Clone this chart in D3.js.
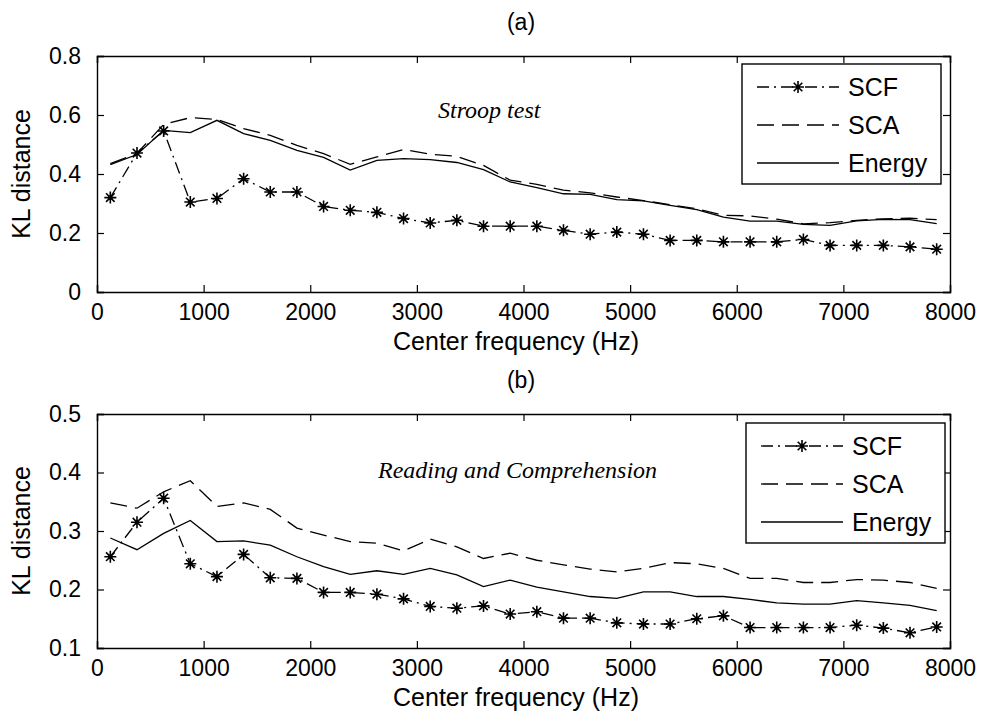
<!DOCTYPE html>
<html>
<head>
<meta charset="utf-8">
<script src="https://cdn.jsdelivr.net/npm/d3@7"></script>
<style>
  html, body { margin: 0; padding: 0; background: #fff; }
  svg { display: block; }
  text { fill: #000; }
</style>
</head>
<body>
<svg id="chart" width="981" height="720"></svg>
<script>
// Band center frequencies (Hz)
const freqs = [125, 375, 625, 875, 1125, 1375, 1625, 1875, 2125, 2375, 2625, 2875,
  3125, 3375, 3625, 3875, 4125, 4375, 4625, 4875, 5125, 5375, 5625, 5875,
  6125, 6375, 6625, 6875, 7125, 7375, 7625, 7875];

// (a) Stroop test
const scfA = [0.320, 0.471, 0.546, 0.305, 0.317, 0.384, 0.339, 0.339, 0.290, 0.277, 0.270, 0.249,
  0.234, 0.243, 0.223, 0.223, 0.223, 0.209, 0.196, 0.203, 0.196, 0.175, 0.175, 0.170,
  0.170, 0.170, 0.178, 0.158, 0.158, 0.158, 0.153, 0.145];
const scaA = [0.435, 0.470, 0.568, 0.591, 0.585, 0.554, 0.531, 0.497, 0.469, 0.433, 0.458, 0.483,
  0.467, 0.460, 0.429, 0.379, 0.365, 0.345, 0.336, 0.322, 0.310, 0.296, 0.282, 0.260,
  0.258, 0.247, 0.231, 0.235, 0.243, 0.248, 0.250, 0.245];
const energyA = [0.432, 0.466, 0.548, 0.540, 0.582, 0.537, 0.514, 0.480, 0.456, 0.413, 0.446, 0.452,
  0.449, 0.439, 0.415, 0.373, 0.354, 0.333, 0.331, 0.313, 0.309, 0.294, 0.279, 0.254,
  0.240, 0.240, 0.229, 0.226, 0.241, 0.246, 0.245, 0.232];

// (b) Reading and Comprehension
const scfB = [0.256, 0.315, 0.356, 0.244, 0.222, 0.260, 0.220, 0.219, 0.195, 0.195, 0.192, 0.184,
  0.171, 0.168, 0.172, 0.158, 0.162, 0.151, 0.151, 0.143, 0.141, 0.141, 0.150, 0.155,
  0.135, 0.135, 0.135, 0.135, 0.139, 0.134, 0.126, 0.136];
const scaB = [0.348, 0.339, 0.367, 0.386, 0.342, 0.348, 0.337, 0.305, 0.293, 0.282, 0.279, 0.266,
  0.286, 0.273, 0.253, 0.262, 0.250, 0.242, 0.235, 0.230, 0.236, 0.246, 0.244, 0.236,
  0.219, 0.219, 0.212, 0.212, 0.217, 0.216, 0.212, 0.202];
const energyB = [0.288, 0.268, 0.296, 0.318, 0.282, 0.283, 0.276, 0.256, 0.239, 0.226, 0.232, 0.226,
  0.236, 0.225, 0.205, 0.216, 0.204, 0.196, 0.188, 0.185, 0.196, 0.196, 0.188, 0.188,
  0.183, 0.177, 0.175, 0.175, 0.181, 0.177, 0.173, 0.164];

const xTicks = [0, 1000, 2000, 3000, 4000, 5000, 6000, 7000, 8000];
const yTicksA = [0, 0.2, 0.4, 0.6, 0.8];
const yTicksB = [0.1, 0.2, 0.3, 0.4, 0.5];
const seriesNames = ["SCF", "SCA", "Energy"];

const SANS = "'Liberation Sans', Arial, sans-serif";
const SERIF = "'Liberation Serif', 'Times New Roman', serif";
const TICK_FONT = 23;
const LABEL_FONT = 25;

const svg = d3.select("#chart");
svg.append("rect").attr("width", 981).attr("height", 720).attr("fill", "#fff");

const starPath = "M0,-6V6M-6,0H6M-4.3,-4.3L4.3,4.3M-4.3,4.3L4.3,-4.3";
const styles = {
  SCF: { dash: "12,5,2,5" },
  SCA: { dash: "17,8" },
  Energy: { dash: null }
};

function sansText(sel, size) {
  return sel.style("font-family", SANS).style("font-size", size + "px");
}

function panel(cfg) {
  const x = d3.scaleLinear().domain([0, 8000]).range([97, 950]);
  const y = d3.scaleLinear().domain(cfg.yDomain).range([cfg.bottom, cfg.top]);
  const g = svg.append("g");

  const line = d3.line().x((d, i) => x(freqs[i])).y(d => y(d));

  // data lines
  const series = [
    { name: "SCF", values: cfg.scf },
    { name: "SCA", values: cfg.sca },
    { name: "Energy", values: cfg.energy }
  ];
  series.forEach(s => {
    g.append("path")
      .attr("d", line(s.values))
      .attr("fill", "none")
      .attr("stroke", "#000")
      .attr("stroke-width", 1.3)
      .attr("stroke-dasharray", styles[s.name].dash);
  });
  // SCF markers
  g.selectAll(".mk").data(cfg.scf).enter().append("g")
    .attr("transform", (d, i) => `translate(${x(freqs[i])},${y(d)})`)
    .each(function () {
      const m = d3.select(this);
      m.append("path").attr("d", starPath).attr("stroke", "#000").attr("stroke-width", 1.6);
      m.append("circle").attr("r", 2.2).attr("fill", "#000");
    });

  // axes (ticks point inward on all four sides)
  const ax = [
    g.append("g").attr("transform", `translate(0,${cfg.bottom})`)
      .call(d3.axisBottom(x).tickValues(xTicks).tickSize(-7).tickPadding(12).tickFormat(d3.format("d"))),
    g.append("g").attr("transform", `translate(0,${cfg.top})`)
      .call(d3.axisTop(x).tickValues(xTicks).tickSize(-7).tickFormat("")),
    g.append("g").attr("transform", `translate(97,0)`)
      .call(d3.axisLeft(y).tickValues(cfg.yTicks).tickSize(-7).tickPadding(16).tickFormat(cfg.fmt)),
    g.append("g").attr("transform", `translate(950,0)`)
      .call(d3.axisRight(y).tickValues(cfg.yTicks).tickSize(-7).tickFormat(""))
  ];
  ax.forEach(a => {
    a.selectAll("path.domain").attr("stroke", "#000").attr("stroke-width", 1.4);
    a.selectAll(".tick line").attr("stroke", "#000").attr("stroke-width", 1.2);
    sansText(a.selectAll("text"), TICK_FONT).attr("fill", "#000");
  });

  // panel title
  sansText(g.append("text"), TICK_FONT).attr("x", 521).attr("y", cfg.top - 26).attr("text-anchor", "middle")
    .text(cfg.title);
  // axis labels
  sansText(g.append("text"), LABEL_FONT).attr("x", 516).attr("y", cfg.bottom + 58).attr("text-anchor", "middle")
    .text("Center frequency (Hz)");
  sansText(g.append("text"), LABEL_FONT).attr("transform", `translate(30,${(cfg.top + cfg.bottom) / 2}) rotate(-90)`)
    .attr("text-anchor", "middle").text("KL distance");
  // annotation
  g.append("text").attr("x", cfg.noteX).attr("y", cfg.noteY)
    .style("font-family", SERIF).style("font-style", "italic").style("font-size", "24px")
    .text(cfg.note);

  // legend
  const lg = g.append("g");
  lg.append("rect").attr("x", cfg.leg.x).attr("y", cfg.leg.y).attr("width", 199).attr("height", 120)
    .attr("fill", "#fff").attr("stroke", "#000").attr("stroke-width", 1.4);
  seriesNames.forEach((name, i) => {
    const cy = cfg.leg.y + 23 + i * 38;
    const x0 = cfg.leg.x + 15, x1 = cfg.leg.x + 97;
    lg.append("line").attr("x1", x0).attr("x2", x1).attr("y1", cy).attr("y2", cy)
      .attr("stroke", "#000").attr("stroke-width", 1.3)
      .attr("stroke-dasharray", styles[name].dash);
    if (name === "SCF") {
      const mk = lg.append("g").attr("transform", `translate(${(x0 + x1) / 2},${cy})`);
      mk.append("path").attr("d", starPath).attr("stroke", "#000").attr("stroke-width", 1.6);
      mk.append("circle").attr("r", 2.2).attr("fill", "#000");
    }
    sansText(lg.append("text"), LABEL_FONT).attr("x", cfg.leg.x + 106).attr("y", cy).attr("dy", "0.35em")
      .text(name);
  });
}

panel({
  top: 56, bottom: 292, yDomain: [0, 0.8], yTicks: yTicksA, fmt: d3.format("~g"),
  scf: scfA, sca: scaA, energy: energyA, title: "(a)",
  note: "Stroop test", noteX: 438, noteY: 118,
  leg: { x: 742, y: 64 }
});
panel({
  top: 414, bottom: 648, yDomain: [0.1, 0.5], yTicks: yTicksB, fmt: d3.format(".1f"),
  scf: scfB, sca: scaB, energy: energyB, title: "(b)",
  note: "Reading and Comprehension", noteX: 378, noteY: 478,
  leg: { x: 746, y: 423 }
});
</script>
</body>
</html>
